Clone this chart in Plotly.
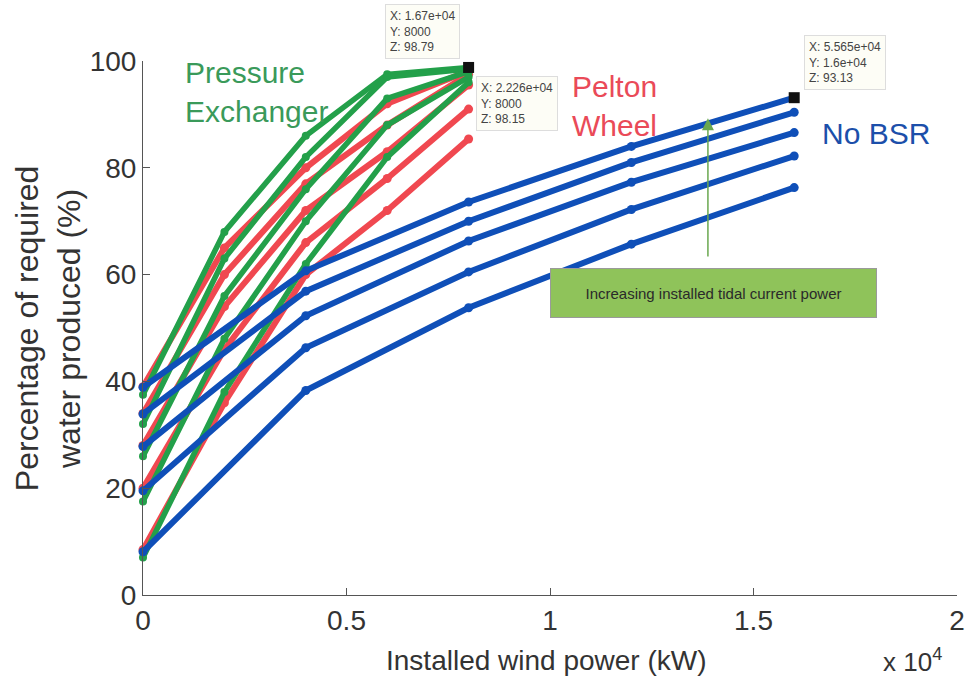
import plotly.graph_objects as go

# ---- data ----
wind_short = [0, 2000, 4000, 6000, 8000]          # Pressure exchanger / Pelton wheel (kW)
wind_long = [0, 4000, 8000, 12000, 16000]         # No BSR (kW)

pressure_exchanger = [
    [37.5, 68, 86, 97.5, 98.79],
    [32, 63, 82, 97, 98.5],
    [26, 56, 76, 93, 98],
    [17.5, 48, 70, 88, 97],
    [7, 38, 62, 82, 96],
]
pelton_wheel = [
    [39, 65, 80, 92, 98.15],
    [34, 60, 77, 88, 97.5],
    [28, 54, 72, 83, 95.5],
    [20, 46, 66, 78, 91],
    [8.5, 36, 60, 72, 85.4],
]
no_bsr = [
    [38.9, 60.7, 73.6, 84.0, 93.13],
    [33.9, 56.9, 70.0, 81.0, 90.4],
    [27.8, 52.3, 66.3, 77.3, 86.6],
    [19.5, 46.3, 60.5, 72.2, 82.2],
    [8.1, 38.3, 53.8, 65.7, 76.3],
]

tip_x = [8000, 16000]
tip_y = [98.79, 93.13]
tip_texts = [
    "X: 1.67e+04<br>Y: 8000<br>Z: 98.79",
    "X: 2.226e+04<br>Y: 8000<br>Z: 98.15",
    "X: 5.565e+04<br>Y: 1.6e+04<br>Z: 93.13",
]

x_ticks = [0, 5000, 10000, 15000, 20000]
x_ticktext = ["0", "0.5", "1", "1.5", "2"]
y_ticks = [0, 20, 40, 60, 80, 100]

GREEN = "#23a04a"
RED = "#f04850"
BLUE = "#0f4fb8"

fig = go.Figure()

for ys in pelton_wheel:
    fig.add_trace(go.Scatter(x=wind_short, y=ys, mode="lines+markers",
                             line=dict(color=RED, width=6),
                             marker=dict(color=RED, size=9),
                             cliponaxis=False, showlegend=False))
for ys in pressure_exchanger:
    fig.add_trace(go.Scatter(x=wind_short, y=ys, mode="lines+markers",
                             line=dict(color=GREEN, width=5.5),
                             marker=dict(color=GREEN, size=8),
                             cliponaxis=False, showlegend=False))
for ys in no_bsr:
    fig.add_trace(go.Scatter(x=wind_long, y=ys, mode="lines+markers",
                             line=dict(color=BLUE, width=6),
                             marker=dict(color=BLUE, size=9),
                             cliponaxis=False, showlegend=False))

fig.add_trace(go.Scatter(x=tip_x, y=tip_y, mode="markers",
                         marker=dict(color="#111111", symbol="square", size=11),
                         cliponaxis=False, showlegend=False))

FONT = "Liberation Sans, Arial, sans-serif"
ann = []
# datatips (paper coordinates so they are never hidden outside the axis range)
tip_pos = [(0.343, 1.056), (0.460, 0.921), (0.862, 0.998)]
for (px, py), t in zip(tip_pos, tip_texts):
    ann.append(dict(x=px, y=py, xref="paper", yref="paper", text=t, showarrow=False,
                    xanchor="center", yanchor="middle",
                    align="left", font=dict(family=FONT, size=12, color="#444"),
                    bgcolor="#fdfdf6", bordercolor="#dddddd", borderwidth=1, borderpad=4))
# labels
ann.append(dict(x=980, y=94.2, xref="x", yref="y", text="Pressure<br>Exchanger",
                showarrow=False, xanchor="left", yanchor="middle", align="left",
                font=dict(family=FONT, size=30, color="#3a9a5a")))
ann.append(dict(x=10490, y=91.6, xref="x", yref="y", text="Pelton<br>Wheel",
                showarrow=False, xanchor="left", yanchor="middle", align="left",
                font=dict(family=FONT, size=30, color="#ea4a58")))
ann.append(dict(x=16630, y=86.5, xref="x", yref="y", text="No BSR",
                showarrow=False, xanchor="left", yanchor="middle",
                font=dict(family=FONT, size=30, color="#1c4faa")))
# arrow
ann.append(dict(x=13880, y=89.3, ax=13880, ay=63.1, xref="x", yref="y",
                axref="x", ayref="y", text="", showarrow=True,
                arrowhead=2, arrowsize=1.6, arrowwidth=1.5, arrowcolor="#6aa84f"))
# green box
ann.append(dict(x=14005, y=56.6, xref="x", yref="y",
                text="Increasing installed tidal current power", showarrow=False,
                xanchor="center", yanchor="middle",
                width=315, height=38, bgcolor="#8fc35a", bordercolor="#9a9a9a",
                borderwidth=1, borderpad=5,
                font=dict(family=FONT, size=15, color="#2a2a2a")))
# axis titles
ann.append(dict(x=-0.1165, y=0.5, xref="paper", yref="paper",
                xanchor="center", yanchor="middle",
                text="Percentage of required<br>water produced (%)", showarrow=False,
                textangle=-90, font=dict(family=FONT, size=32, color="#333")))
ann.append(dict(x=0.496, y=-0.122, xref="paper", yref="paper",
                xanchor="center", yanchor="middle",
                text="Installed wind power (kW)", showarrow=False,
                font=dict(family=FONT, size=28, color="#333")))
ann.append(dict(x=0.945, y=-0.122, xref="paper", yref="paper",
                xanchor="center", yanchor="middle",
                text="x 10<sup>4</sup>", showarrow=False,
                font=dict(family=FONT, size=26, color="#333")))

fig.update_layout(
    width=965, height=683,
    margin=dict(l=143, r=8, t=61, b=88),
    paper_bgcolor="white", plot_bgcolor="white",
    annotations=ann,
    showlegend=False,
)
fig.update_xaxes(range=[0, 20000], tickvals=x_ticks, ticktext=x_ticktext,
                 ticks="inside", ticklen=7, tickcolor="#555", automargin=False,
                 showline=True, linecolor="#555", linewidth=1,
                 showgrid=False, zeroline=False,
                 tickfont=dict(family=FONT, size=28, color="#333"))
fig.update_yaxes(range=[0, 100], tickvals=y_ticks,
                 ticks="inside", ticklen=7, tickcolor="#555", automargin=False,
                 showline=True, linecolor="#555", linewidth=1,
                 showgrid=False, zeroline=False,
                 tickfont=dict(family=FONT, size=28, color="#333"))

# remove the default 8 px page margin so the 965x683 figure fills the window exactly
fig.write_html("out.html",
               config={"displayModeBar": False},
               post_script="document.body.style.margin='0';document.body.style.overflow='hidden';")
